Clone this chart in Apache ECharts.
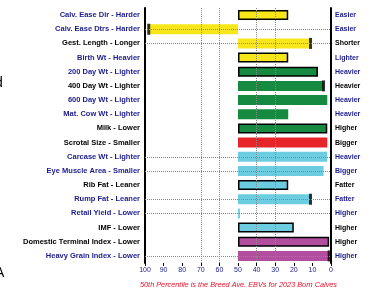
<!DOCTYPE html>
<html lang="en">
  <head>
    <meta charset="utf-8" />
    <title>EBV percentiles</title>
    <script src="https://cdn.jsdelivr.net/npm/echarts@6/dist/echarts.min.js"></script>
    <style>
      html, body { margin: 0; padding: 0; background: #fff; }
      #main { width: 376px; height: 294px; }
    </style>
  </head>
  <body>
    <div id="main"></div>
    <script>
      // trait names, left = low end, right = high end
      var traitsLeft = [
        "Calv. Ease Dir - Harder", "Calv. Ease Dtrs - Harder", "Gest. Length - Longer",
        "Birth Wt - Heavier", "200 Day Wt - Lighter", "400 Day Wt - Lighter",
        "600 Day Wt - Lighter", "Mat. Cow Wt - Lighter", "Milk - Lower",
        "Scrotal Size - Smaller", "Carcase Wt - Lighter", "Eye Muscle Area - Smaller",
        "Rib Fat - Leaner", "Rump Fat - Leaner", "Retail Yield - Lower",
        "IMF - Lower", "Domestic Terminal Index - Lower", "Heavy Grain Index - Lower"
      ];
      var traitsRight = [
        "Easier", "Easier", "Shorter", "Lighter", "Heavier", "Heavier",
        "Heavier", "Heavier", "Higher", "Bigger", "Heavier", "Bigger",
        "Fatter", "Fatter", "Higher", "Higher", "Higher", "Higher"
      ];
      var percentiles = [23, 98, 11, 23, 7, 4, 2, 23, 2, 2, 2, 4, 23, 11, 49, 20, 1, 1];
      var groups = ["calv", "calv", "calv", "calv", "growth", "growth", "growth", "growth", "growth",
        "fert", "carc", "carc", "carc", "carc", "carc", "carc", "index", "index"];
      var outlined = [1, 0, 0, 1, 1, 0, 0, 0, 1, 0, 0, 0, 1, 0, 0, 1, 1, 0];
      var capped = [0, 1, 1, 0, 0, 1, 0, 0, 0, 0, 0, 0, 0, 1, 0, 0, 0, 1];
      var boldRows = [0, 0, 1, 0, 0, 1, 0, 0, 1, 1, 0, 0, 1, 0, 0, 1, 1, 0];
      var dottedRows = [1, 2, 10, 11, 13, 14, 17];
      var gridValues = [70, 60, 40, 30];
      var footNote = "50th Percentile is the Breed Ave. EBVs for 2023 Born Calves";

      var groupColor = {
        calv: "#f6e61a",
        growth: "#168a40",
        fert: "#e8242b",
        carc: "#6dcde0",
        index: "#b24e9e"
      };

      // bars run from the 50th percentile, so plot 50 - pct
      var barData = percentiles.map(function (p, i) {
        var item = { value: 50 - p, itemStyle: { color: groupColor[groups[i]] } };
        if (outlined[i]) {
          item.itemStyle.borderColor = "#000";
          item.itemStyle.borderWidth = 1.5;
        }
        return item;
      });
      var capData = [];
      percentiles.forEach(function (p, i) {
        if (capped[i]) capData.push([50 - p, i]);
      });

      function labelStyle(i) {
        return boldRows[i] ? { color: "#000" } : { color: "#1c1c8c" };
      }
      var leftCats = traitsLeft.map(function (t, i) {
        return { value: t, textStyle: labelStyle(i) };
      });
      var rightCats = traitsRight.map(function (t, i) {
        return { value: t, textStyle: labelStyle(i) };
      });

      var lineData = [];
      dottedRows.forEach(function (r) {
        lineData.push({ yAxis: traitsLeft[r] });
      });
      gridValues.forEach(function (v) {
        lineData.push({ xAxis: 50 - v });
      });

      var myChart = echarts.init(document.getElementById("main"), null, { renderer: "canvas" });
      var option = {
        animation: false,
        grid: { left: 145, right: 45, top: 8, bottom: 31 },
        xAxis: {
          type: "value",
          min: -50,
          max: 50,
          interval: 10,
          splitLine: { show: false },
          axisLine: { lineStyle: { color: "#000", width: 2 } },
          axisTick: { show: true, length: 3, lineStyle: { color: "#000" } },
          axisLabel: {
            fontSize: 7,
            color: "#1c1c8c",
            margin: 4,
            formatter: function (v) { return 50 - v; }
          }
        },
        yAxis: [
          {
            type: "category",
            inverse: true,
            data: leftCats,
            position: "left",
            axisLine: { onZero: false, lineStyle: { color: "#000", width: 2 } },
            axisTick: { show: false },
            axisLabel: { fontSize: 7.5, fontWeight: "bold", margin: 5, fontFamily: "Liberation Sans" }
          },
          {
            type: "category",
            inverse: true,
            data: rightCats,
            position: "right",
            axisLine: { onZero: false, lineStyle: { color: "#000", width: 2 } },
            axisTick: { show: false },
            axisLabel: { fontSize: 7, fontWeight: "bold", margin: 4, fontFamily: "Liberation Sans" }
          }
        ],
        series: [
          {
            type: "line",
            data: [],
            z: 1,
            markLine: {
              silent: true,
              symbol: "none",
              label: { show: false },
              lineStyle: { type: "dotted", color: "#888", width: 1 },
              data: lineData
            }
          },
          {
            type: "bar",
            data: barData,
            barWidth: 10,
            z: 2
          },
          {
            type: "scatter",
            data: capData,
            symbol: "rect",
            symbolSize: [3, 11],
            itemStyle: { color: "#000" },
            z: 3
          }
        ],
        graphic: [
          {
            type: "text",
            left: 140,
            top: 281,
            style: {
              text: footNote,
              fill: "#e8102a",
              font: "italic 7.3px Liberation Sans",
              width: 200,
              align: "center",
              x: 100
            }
          },
          {
            type: "text",
            left: -5,
            top: 76,
            style: { text: "d", fill: "#000", font: "14px Liberation Sans" }
          },
          {
            type: "text",
            left: -5,
            top: 266,
            style: { text: "A", fill: "#000", font: "14px Liberation Sans" }
          }
        ]
      };
      myChart.setOption(option);
    </script>
  </body>
</html>
